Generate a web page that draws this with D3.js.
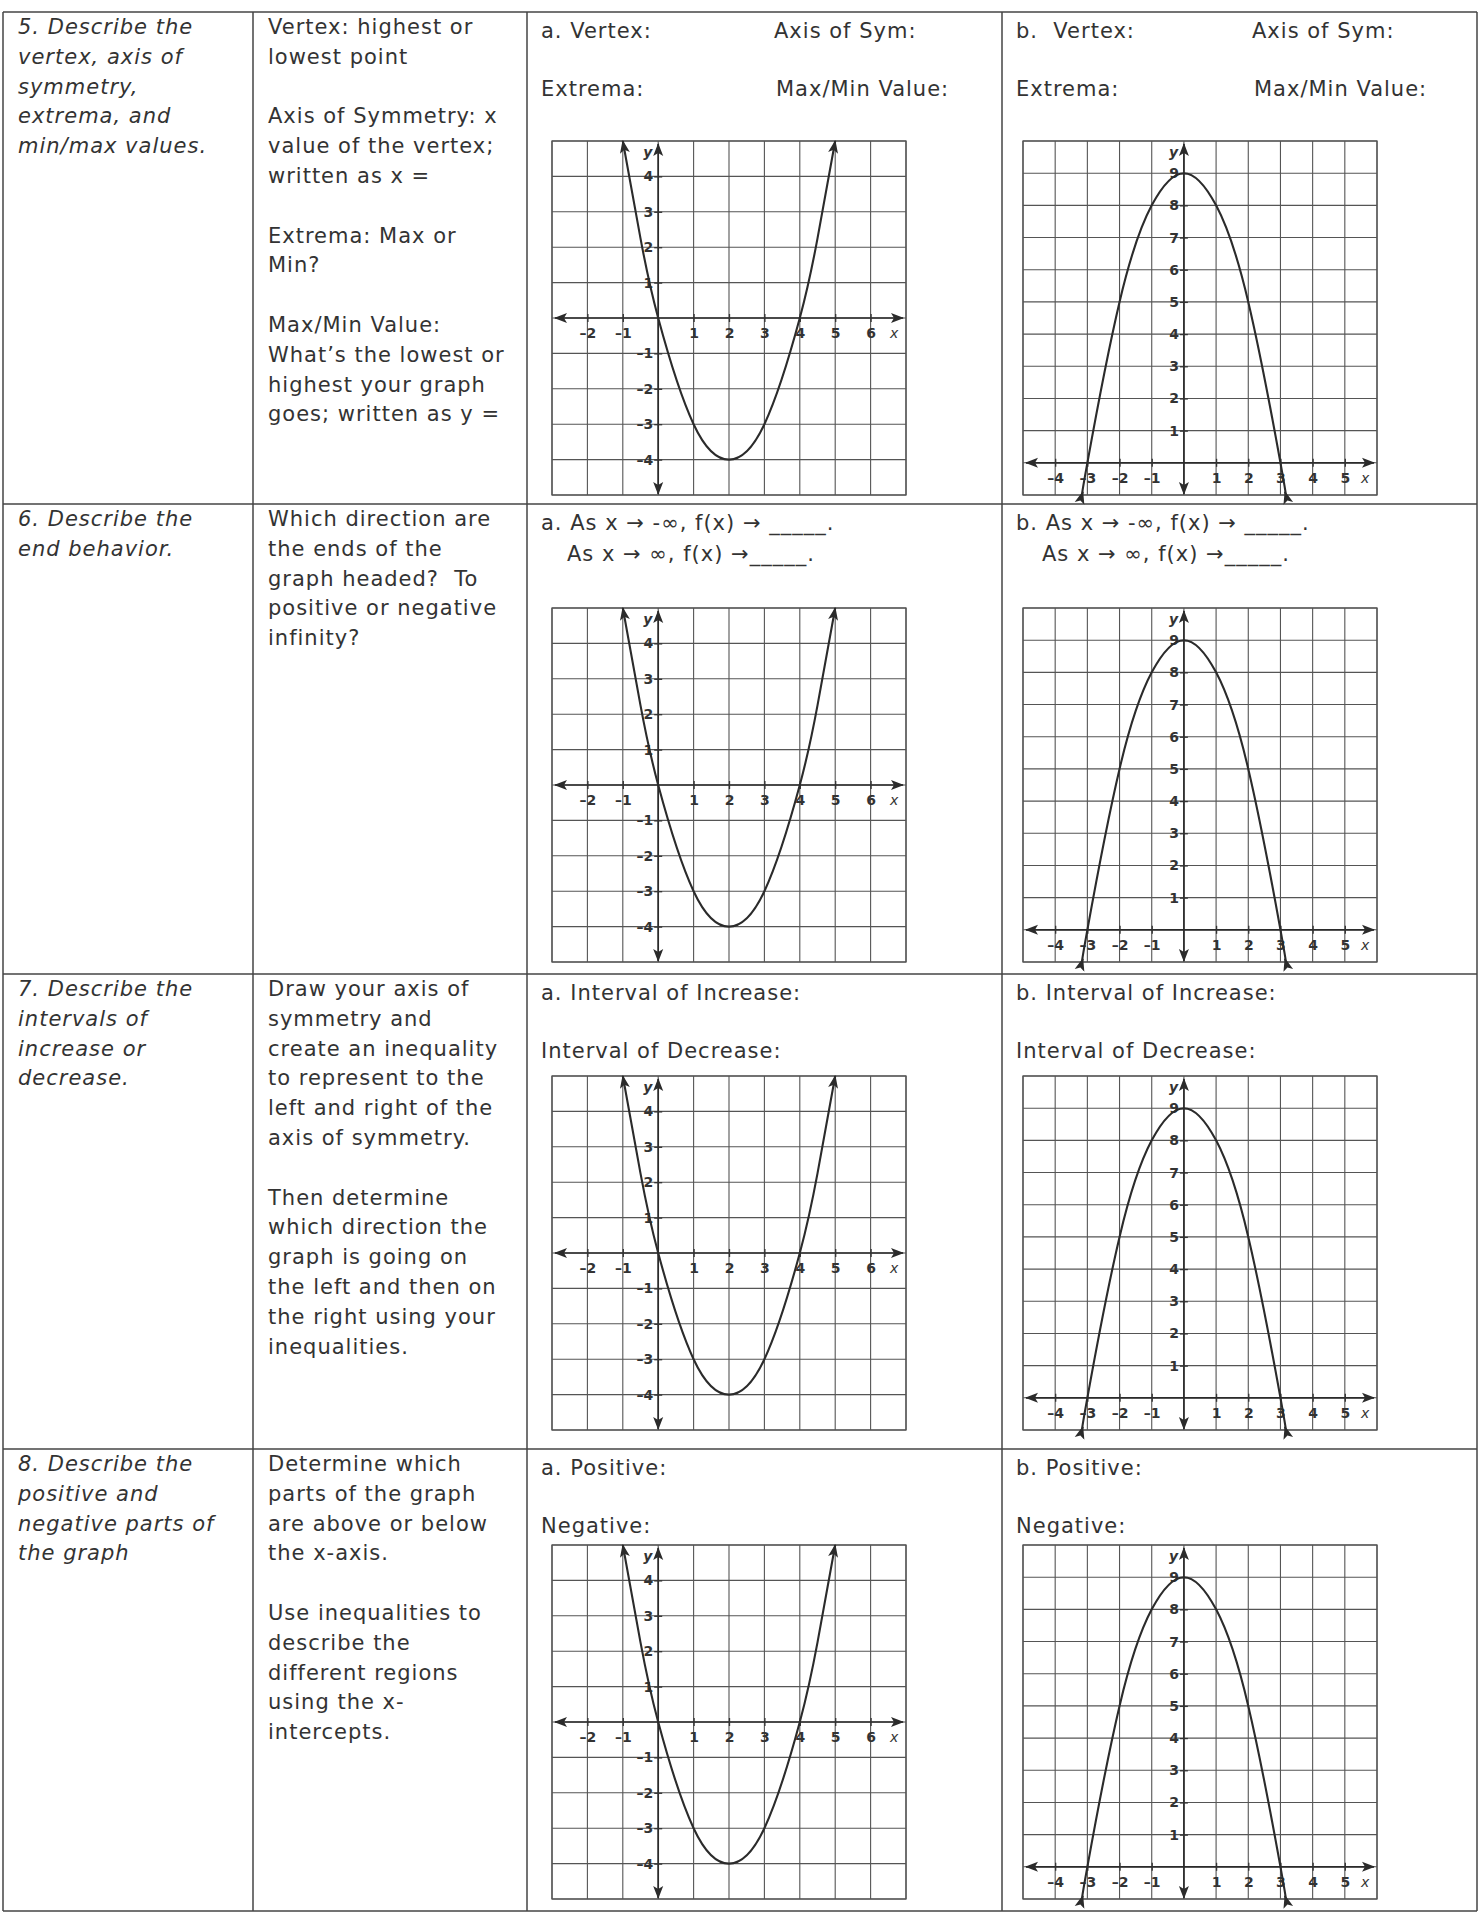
<!DOCTYPE html>
<html>
<head>
<meta charset="utf-8">
<script src="https://cdn.jsdelivr.net/npm/d3@7"></script>
<style>
body { margin: 0; background: #fff; }
text { font-family: "DejaVu Sans", sans-serif; fill: #333; white-space: pre; }
.cell { font-size: 21px; letter-spacing: 1px; }
.topic { font-style: italic; }
.grid line { stroke: #555; stroke-width: 1.1; }
.frame { fill: none; stroke: #555; stroke-width: 1.3; }
.axisline { stroke: #2b2b2b; stroke-width: 1.7; }
.curve { fill: none; stroke: #2b2b2b; stroke-width: 2.1; }
.tick line { stroke: #333; stroke-width: 1.3; }
.border { stroke: #444; stroke-width: 1.5; }
</style>
</head>
<body>
<div id="svg_container"></div>
<script>
/* -----------------------
text of the table
------------------------- */

var topics = [
	["5. Describe the", "vertex, axis of", "symmetry,", "extrema, and", "min/max values."],
	["6. Describe the", "end behavior."],
	["7. Describe the", "intervals of", "increase or", "decrease."],
	["8. Describe the", "positive and", "negative parts of", "the graph"]
];

var hints = [
	["Vertex: highest or", "lowest point", "", "Axis of Symmetry: x", "value of the vertex;", "written as x =", "",
	 "Extrema: Max or", "Min?", "", "Max/Min Value:", "What\u2019s the lowest or", "highest your graph", "goes; written as y ="],
	["Which direction are", "the ends of the", "graph headed?  To", "positive or negative", "infinity?"],
	["Draw your axis of", "symmetry and", "create an inequality", "to represent to the", "left and right of the",
	 "axis of symmetry.", "", "Then determine", "which direction the", "graph is going on", "the left and then on",
	 "the right using your", "inequalities."],
	["Determine which", "parts of the graph", "are above or below", "the x-axis.", "", "Use inequalities to",
	 "describe the", "different regions", "using the x-", "intercepts."]
];

var promptsA = [
	[["a. Vertex:", "Axis of Sym:"], ["Extrema:", "Max/Min Value:"]],
	[["a. As x \u2192 -\u221e, f(x) \u2192 _____."], ["As x \u2192 \u221e, f(x) \u2192_____."]],
	[["a. Interval of Increase:"], ["Interval of Decrease:"]],
	[["a. Positive:"], ["Negative:"]]
];

var promptsB = [
	[["b.  Vertex:", "Axis of Sym:"], ["Extrema:", "Max/Min Value:"]],
	[["b. As x \u2192 -\u221e, f(x) \u2192 _____."], ["As x \u2192 \u221e, f(x) \u2192_____."]],
	[["b. Interval of Increase:"], ["Interval of Decrease:"]],
	[["b. Positive:"], ["Negative:"]]
];

/* -----------------------
graph data
------------------------- */

// graph a : grid x -3..7, y -5..5
var gridA_x = [-3, 7];
var gridA_y = [-5, 5];
var ticksA_x = [-2, -1, 1, 2, 3, 4, 5, 6];
var ticksA_y = [-4, -3, -2, -1, 1, 2, 3, 4];
var curveA = [[-1, 5], [-0.5, 2.25], [0, 0], [1, -3], [2, -4], [3, -3], [4, 0], [4.5, 2.25], [5, 5]];

// graph b : grid x -5..6, y -1..10
var gridB_x = [-5, 6];
var gridB_y = [-1, 10];
var ticksB_x = [-4, -3, -2, -1, 1, 2, 3, 4, 5];
var ticksB_y = [1, 2, 3, 4, 5, 6, 7, 8, 9];
var curveB = [[-3.14, -0.9], [-3, 0], [-2, 5], [-1, 8], [0, 9], [1, 8], [2, 5], [3, 0], [3.14, -0.9]];

/* -----------------------
layout
------------------------- */

var width = 1479;
var height = 1913;

var colX = [3, 253, 527, 1002, 1477];
var rowY = [12, 504, 974, 1449, 1911];
var graphTop = [141, 608, 1076, 1545];
var graphLeftA = 552;
var graphLeftB = 1023;
var graphSize = 354;
var lineH = 29.8;

var svg = d3.select("#svg_container")
	.append("svg")
	.attr("width", width)
	.attr("height", height)
	.attr("viewBox", "0 0 " + width + " " + height);

svg.append("rect").attr("width", width).attr("height", height).attr("fill", "#fff");

var defs = svg.append("defs");
defs.append("marker")
	.attr("id", "arrow")
	.attr("viewBox", "0 -6 14 12")
	.attr("refX", 12)
	.attr("refY", 0)
	.attr("markerUnits", "userSpaceOnUse")
	.attr("markerWidth", 14)
	.attr("markerHeight", 12)
	.attr("orient", "auto-start-reverse")
	.append("path")
	.attr("d", "M0,-5 L13,0 L0,5 L3,0 Z")
	.attr("fill", "#2b2b2b");

/* -----------------------
table
------------------------- */

var table = svg.append("g").attr("class", "table");

colX.forEach(function (x) {
	table.append("line").attr("class", "border")
		.attr("x1", x).attr("y1", rowY[0]).attr("x2", x).attr("y2", rowY[4]);
});
rowY.forEach(function (y) {
	table.append("line").attr("class", "border")
		.attr("x1", colX[0]).attr("y1", y).attr("x2", colX[4]).attr("y2", y);
});

function writeLines(lines, x, y, cls) {
	var t = table.append("text").attr("class", cls).attr("x", x).attr("y", y);
	lines.forEach(function (l, i) {
		t.append("tspan").attr("x", x).attr("y", y + i * lineH).text(l === "" ? " " : l);
	});
}

var promptGap = [58, 31, 58, 58];
var promptIndent = [0, 26, 0, 0];

for (var r = 0; r < 4; r++) {
	writeLines(topics[r], colX[0] + 15, rowY[r] + 22, "cell topic");
	writeLines(hints[r], colX[1] + 15, rowY[r] + 22, "cell");

	[[promptsA[r], colX[2] + 14, 233], [promptsB[r], colX[3] + 14, 236]].forEach(function (p) {
		p[0].forEach(function (line, li) {
			var yy = rowY[r] + 26 + li * promptGap[r];
			var xx = p[1] + (li > 0 ? promptIndent[r] : 0);
			line.forEach(function (s, si) {
				table.append("text").attr("class", "cell")
					.attr("x", xx + si * p[2] + (si > 0 && li > 0 ? 2 : 0))
					.attr("y", yy)
					.text(s);
			});
		});
	});
}

/* -----------------------
graphs
------------------------- */

function fmt(d) {
	return d < 0 ? "\u2013" + Math.abs(d) : d;
}

function styleTicks(sel) {
	sel.selectAll(".tick text")
		.attr("font-size", 14)
		.attr("font-weight", "bold")
		.attr("fill", "#3a3a3a")
		.style("font-family", "'DejaVu Sans', sans-serif");
}

function drawGraph(left, top, dx, dy, tx, ty, pts) {
	var x = d3.scaleLinear().domain(dx).range([left, left + graphSize]);
	var y = d3.scaleLinear().domain(dy).range([top + graphSize, top]);
	var g = svg.append("g").attr("class", "graph");

	var grid = g.append("g").attr("class", "grid");
	grid.selectAll(".v").data(d3.range(dx[0], dx[1] + 1)).enter().append("line")
		.attr("x1", function (d) { return x(d); }).attr("x2", function (d) { return x(d); })
		.attr("y1", y(dy[0])).attr("y2", y(dy[1]));
	grid.selectAll(".h").data(d3.range(dy[0], dy[1] + 1)).enter().append("line")
		.attr("y1", function (d) { return y(d); }).attr("y2", function (d) { return y(d); })
		.attr("x1", x(dx[0])).attr("x2", x(dx[1]));
	g.append("rect").attr("class", "frame")
		.attr("x", x(dx[0])).attr("y", y(dy[1]))
		.attr("width", graphSize).attr("height", graphSize);

	// axes lines with arrows
	g.append("line").attr("class", "axisline")
		.attr("x1", x(dx[0]) + 3).attr("x2", x(dx[1]) - 3)
		.attr("y1", y(0)).attr("y2", y(0))
		.attr("marker-start", "url(#arrow)").attr("marker-end", "url(#arrow)");
	g.append("line").attr("class", "axisline")
		.attr("x1", x(0)).attr("x2", x(0))
		.attr("y1", y(dy[1]) + 3).attr("y2", y(dy[0]) - 1)
		.attr("marker-start", "url(#arrow)").attr("marker-end", "url(#arrow)");

	// tick labels
	var xa = g.append("g")
		.attr("transform", "translate(0," + y(0) + ")")
		.call(d3.axisBottom(x).tickValues(tx).tickSizeInner(4).tickSizeOuter(0).tickPadding(6).tickFormat(fmt));
	xa.select(".domain").remove();
	xa.selectAll(".tick line").attr("y1", -4).attr("y2", 4);
	styleTicks(xa);

	var ya = g.append("g")
		.attr("transform", "translate(" + x(0) + ",0)")
		.call(d3.axisLeft(y).tickValues(ty).tickSizeInner(4).tickSizeOuter(0).tickPadding(1).tickFormat(fmt));
	ya.select(".domain").remove();
	ya.selectAll(".tick line").attr("x1", -4).attr("x2", 4);
	styleTicks(ya);

	g.append("text").attr("x", x(0) - 15).attr("y", y(dy[1]) + 16)
		.attr("font-style", "italic").attr("font-weight", "bold").attr("font-size", 14).text("y");
	g.append("text").attr("x", x(dx[1]) - 16).attr("y", y(0) + 20)
		.attr("font-style", "italic").attr("font-size", 14).text("x");

	// the parabola
	var line = d3.line()
		.x(function (d) { return x(d[0]); })
		.y(function (d) { return y(d[1]); })
		.curve(d3.curveNatural);
	g.append("path").attr("class", "curve")
		.attr("d", line(pts))
		.attr("marker-start", "url(#arrow)").attr("marker-end", "url(#arrow)");
}

for (var k = 0; k < 4; k++) {
	drawGraph(graphLeftA, graphTop[k], gridA_x, gridA_y, ticksA_x, ticksA_y, curveA);
	drawGraph(graphLeftB, graphTop[k], gridB_x, gridB_y, ticksB_x, ticksB_y, curveB);
}
</script>
</body>
</html>
